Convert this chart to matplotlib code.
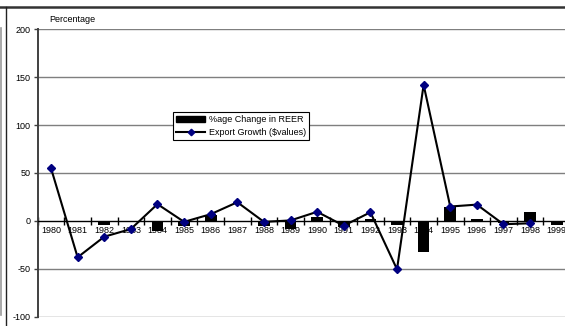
import numpy as np
import matplotlib
matplotlib.use("Agg")
import matplotlib.pyplot as plt
from matplotlib.lines import Line2D
from matplotlib.patches import Patch

plt.rcParams['font.family'] = ['Liberation Sans', 'DejaVu Sans']

years = [str(y) for y in range(1980, 2000)]
reer_change = [0, -1, -4.5, -1, -10.5, -5, 6, -1.5, -5.5, -8, 4, -6, 2, -4, -32, 14, 2, -2, 9, -4.5]
export_growth = [55, -38, -16.5, -8.5, 17.5, -1, 7, 19.5, -1, 0.5, 9.5, -5, 9, -50.5, 142, 15, 17, -3.5, -2.5, np.nan]

y_ticks = [-100, -50, 0, 50, 100, 150, 200]

W, H = 565, 326
fig = plt.figure(figsize=(W / 100, H / 100), dpi=100)
ax = fig.add_axes([37.7 / W, 1 - 316.7 / H, 532.3 / W, 287.4 / H])

x = np.arange(len(years))

# gridlines
for v in y_ticks:
    if v != 0:
        ax.axhline(v, color='#7f7f7f', lw=1.0, zorder=0)

ax.bar(x, reer_change, width=0.44, color='black', zorder=2)
ax.plot(x, export_growth, color='black', lw=1.5, marker='D', markersize=4.4,
        markerfacecolor='#000080', markeredgecolor='#000080', zorder=3)

ax.set_xlim(-0.5, len(years) - 0.5)
ax.set_ylim(-100, 200)

for s in ['top', 'right']:
    ax.spines[s].set_visible(False)
ax.spines['left'].set_color('#404040')
ax.spines['left'].set_linewidth(1.4)
ax.spines['bottom'].set_position(('data', 0))
ax.spines['bottom'].set_color('black')
ax.spines['bottom'].set_linewidth(1.0)

ax.set_yticks(y_ticks)
ax.set_yticklabels([str(v) for v in y_ticks])
ax.tick_params(axis='y', direction='out', length=3, width=1, color='#404040',
               labelsize=6.5, pad=2)

ax.set_xticks(x)
ax.set_xticklabels(years)
ax.set_xticks(np.arange(-0.5, len(years), 1), minor=True)
ax.tick_params(axis='x', which='major', length=0, labelsize=6.5, pad=4)
ax.tick_params(axis='x', which='minor', direction='inout', length=6, width=1, color='black')

fig.text(49 / W, 1 - 20 / H, 'Percentage', fontsize=6.5, va='center', ha='left')

handles = [Patch(facecolor='black', edgecolor='black'),
           Line2D([0], [0], color='black', lw=1.5, marker='D', markersize=3.3,
                  markerfacecolor='#000080', markeredgecolor='#000080')]
labels = ['%age Change in REER', 'Export Growth ($values)']
leg = fig.legend(handles, labels, loc='upper left', bbox_to_anchor=(173 / W, 1 - 112 / H),
                 fontsize=6.5, frameon=True, fancybox=False, framealpha=1,
                 edgecolor='black', borderpad=0.35, handlelength=3.2, handleheight=0.6,
                 handletextpad=0.45, labelspacing=0.45, borderaxespad=0)
leg.get_frame().set_linewidth(0.8)

# surrounding frame lines
fig.add_artist(Line2D([0, 1], [1 - 6.5 / H, 1 - 6.5 / H], transform=fig.transFigure,
                      color='#333333', lw=1.8))
fig.add_artist(Line2D([5.5 / W, 5.5 / W], [0, 1 - 6.5 / H], transform=fig.transFigure,
                      color='#222222', lw=1.0))
fig.add_artist(Line2D([0.8 / W, 0.8 / W], [1 - 315 / H, 1 - 28 / H], transform=fig.transFigure,
                      color='#9a9a9a', lw=1.2))

fig.savefig('out.png', dpi=100)
